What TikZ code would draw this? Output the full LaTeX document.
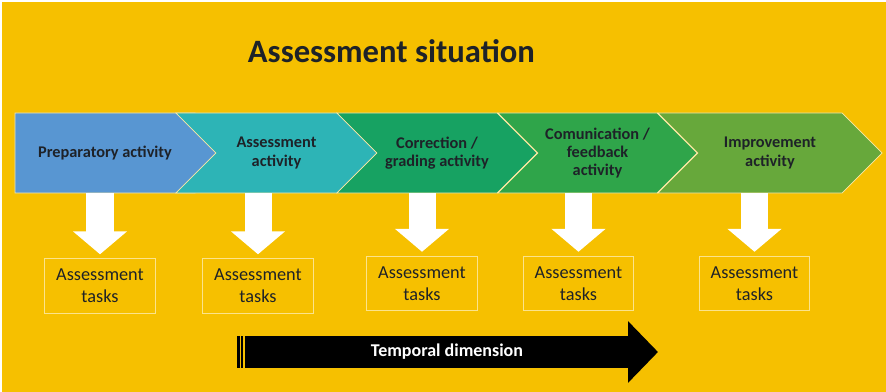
\documentclass[tikz,border=0pt]{standalone}
\usepackage{fontspec}
\setmainfont{Carlito}
\usepackage{xcolor}
\usetikzlibrary{positioning,shapes.symbols,arrows.meta}

\definecolor{bgyellow}{RGB}{246,192,0}
\definecolor{prepblue}{RGB}{88,150,210}
\definecolor{assteal}{RGB}{45,180,182}
\definecolor{corrgreen}{RGB}{23,162,98}
\definecolor{commgreen}{RGB}{47,165,74}
\definecolor{imprgreen}{RGB}{103,168,59}
\definecolor{textgray}{RGB}{30,34,40}

\begin{document}
\begin{tikzpicture}[x=0.025cm,y=-0.025cm,
	phase/.style={signal, signal to=east, signal pointer angle=90, minimum height=2cm, inner sep=0pt,
		draw=white!65!bgyellow, line width=0.5pt, text=textgray, align=center,
		font=\bfseries\fontsize{11.6}{13}\selectfont},
	task/.style={draw=white!55!bgyellow, line width=0.7pt, minimum width=2.75cm, minimum height=1.35cm,
		text=textgray, align=center, font=\fontsize{13}{15.6}\selectfont},
	taskarrow/.style={draw=white, line width=0.675cm, shorten >=3pt, -{Triangle[width=1.325cm,length=0.575cm]}}]

		\fill[white] (0,0) rectangle (886,392);
		\fill[bgyellow] (2,2) rectangle (886,392);

		\node[anchor=base west, text=textgray, font=\bfseries\fontsize{23.2}{28}\selectfont] (title) at (243,63) {Assessment situation};

		\node[phase, fill=prepblue, minimum width=5.5cm] (p1) at (105,153) {Preparatory activity};
		\node[phase, fill=assteal, signal from=west, minimum width=5.025cm] (p2) at (276.5,153) {Assessment\\activity};
		\node[phase, fill=corrgreen, signal from=west, minimum width=5cm] (p3) at (437,153) {Correction /\\grading activity};
		\node[phase, fill=commgreen, signal from=west, minimum width=4.975cm] (p4) at (597.5,153) {Comunication /\\feedback\\activity};
		\node[phase, fill=imprgreen, signal from=west, minimum width=5.6cm] (p5) at (770,153) {Improvement\\activity};

		\node[task] (t1) at (100,286) {Assessment\\tasks};
		\node[task] (t2) at (258,286) {Assessment\\tasks};
		\node[task] (t3) at (422,283.5) {Assessment\\tasks};
		\node[task] (t4) at (578.5,283.5) {Assessment\\tasks};
		\node[task] (t5) at (754.5,283.5) {Assessment\\tasks};

		\draw[taskarrow] (p1.south -| t1.north) -- (t1.north);
		\draw[taskarrow] (p2.south -| t2.north) -- (t2.north);
		\draw[taskarrow] (p3.south -| t3.north) -- (t3.north);
		\draw[taskarrow] (p4.south -| t4.north) -- (t4.north);
		\draw[taskarrow] (p5.south -| t5.north) -- (t5.north);

		\coordinate (tstart) at (245,352);
		\coordinate (tend) at (658,352);
		\draw[line width=0.8cm, -{Triangle[width=1.5cm,length=0.75cm]}] (tstart) -- (tend);
		\fill (237.3,336) rectangle (239.7,368);
		\fill (241,336) rectangle (242.8,368);
		\node[text=white, font=\bfseries\fontsize{12.8}{15}\selectfont] (tlabel) at (447,352) {Temporal dimension};
\end{tikzpicture}
\end{document}
